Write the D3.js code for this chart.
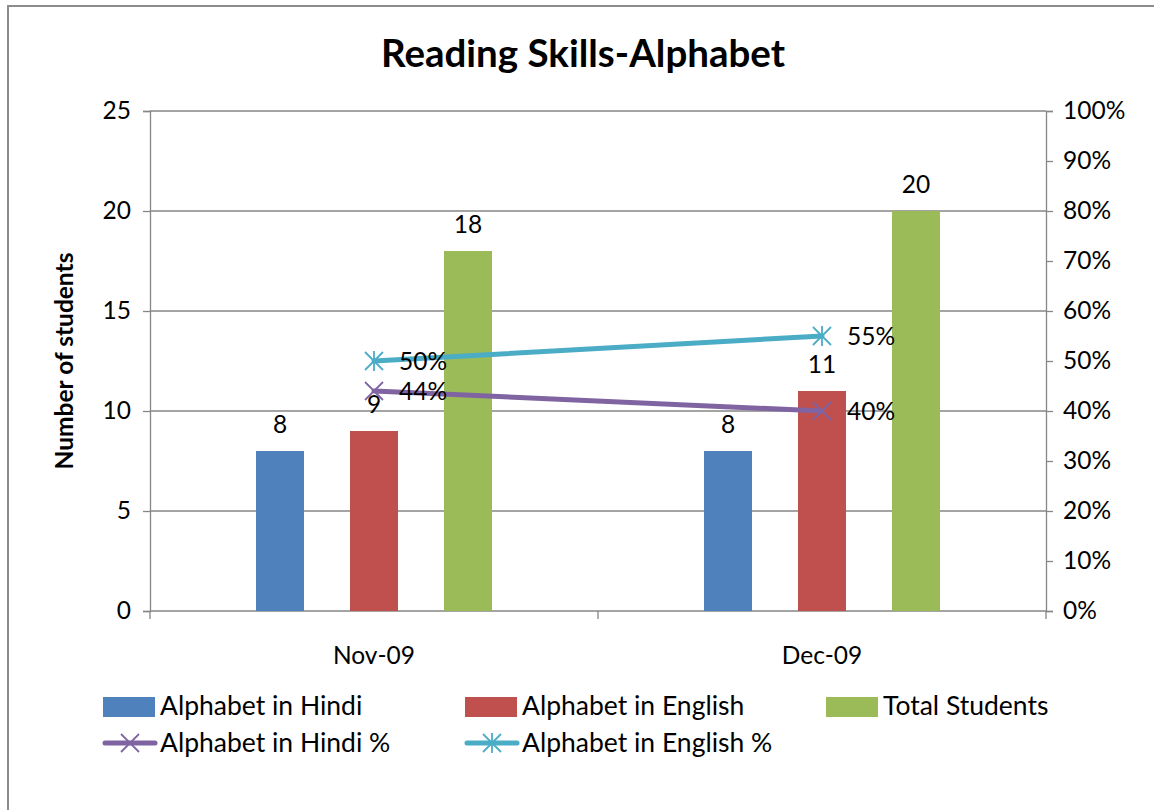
<!DOCTYPE html>
<html><head><meta charset="utf-8">
<script src="https://cdn.jsdelivr.net/npm/d3@7"></script>
<style>body{margin:0;background:#fff}svg{display:block}text{font-family:Lato,"Open Sans",sans-serif;fill:#000}</style>
</head><body><svg id="c" width="1154" height="810"></svg>
<script>
const categories = ["Nov-09", "Dec-09"];
const hindi = [8, 8];
const english = [9, 11];
const total = [18, 20];
const hindiPct = [44, 40];
const englishPct = [50, 55];
const leftTicks = [0, 5, 10, 15, 20, 25];
const rightTicks = [0, 10, 20, 30, 40, 50, 60, 70, 80, 90, 100];
const barSeries = [
  {name: "Alphabet in Hindi", values: hindi, color: "#4F81BD"},
  {name: "Alphabet in English", values: english, color: "#C0504D"},
  {name: "Total Students", values: total, color: "#9BBB59"}
];
const lineSeries = [
  {name: "Alphabet in Hindi %", values: hindiPct, color: "#8064A2", marker: "x"},
  {name: "Alphabet in English %", values: englishPct, color: "#4BACC6", marker: "star"}
];

const FS = 24.5;
const svg = d3.select("#c");
svg.append("rect").attr("x", 8).attr("y", 6).attr("width", 1160).attr("height", 820)
  .attr("fill", "#fff").attr("stroke", "#8c8c8c").attr("stroke-width", 2);

const L = 150, R = 1046, T = 111, B = 611;
const x = d3.scaleBand().domain(categories).range([L, R]);
const y = d3.scaleLinear().domain([0, 25]).range([B, T]);
const y2 = d3.scaleLinear().domain([0, 100]).range([B, T]);
const grey = "#868686";

// gridlines
svg.append("g").selectAll("line").data(leftTicks.slice(1)).join("line")
  .attr("x1", L).attr("x2", R).attr("y1", d => y(d)).attr("y2", d => y(d))
  .attr("stroke", grey).attr("stroke-width", 1.3);

// left axis
const la = svg.append("g").attr("transform", `translate(${L},0)`)
  .call(d3.axisLeft(y).tickValues(leftTicks).tickSize(7).tickPadding(12));
la.select(".domain").attr("stroke", grey).attr("stroke-width", 1.3);
la.selectAll(".tick line").attr("stroke", grey).attr("stroke-width", 1.3);
la.selectAll("text").attr("font-size", FS).style("font-family", "Lato");

// right axis
const ra = svg.append("g").attr("transform", `translate(${R},0)`)
  .call(d3.axisRight(y2).tickValues(rightTicks).tickFormat(d => d + "%").tickSize(7).tickPadding(10));
ra.select(".domain").attr("stroke", grey).attr("stroke-width", 1.3);
ra.selectAll(".tick line").attr("stroke", grey).attr("stroke-width", 1.3);
ra.selectAll("text").attr("font-size", FS).style("font-family", "Lato");

// x axis
svg.append("line").attr("x1", L).attr("x2", R).attr("y1", B).attr("y2", B)
  .attr("stroke", grey).attr("stroke-width", 1.3);
const xt = [L, L + x.bandwidth(), R];
svg.append("g").selectAll("line").data(xt).join("line")
  .attr("x1", d => d).attr("x2", d => d).attr("y1", B).attr("y2", B + 8)
  .attr("stroke", grey).attr("stroke-width", 1.3);
svg.append("g").selectAll("text").data(categories).join("text")
  .attr("x", d => x(d) + x.bandwidth() / 2).attr("y", 664)
  .attr("text-anchor", "middle").attr("font-size", FS).text(d => d);

// bars
const bw = x.bandwidth();
const barW = bw * 48 / 448, step = bw * 94 / 448;
barSeries.forEach((s, i) => {
  const g = svg.append("g");
  categories.forEach((c, j) => {
    const cx = x(c) + bw / 2 + (i - 1) * step;
    g.append("rect").attr("x", cx - barW / 2).attr("y", y(s.values[j]))
      .attr("width", barW).attr("height", B - y(s.values[j])).attr("fill", s.color);
    g.append("text").attr("x", cx).attr("y", y(s.values[j]) - 18)
      .attr("text-anchor", "middle").attr("font-size", FS).text(s.values[j]);
  });
});

function marker(g, cx, cy, type, color) {
  const r = 9;
  g.append("line").attr("x1", cx - r).attr("y1", cy - r).attr("x2", cx + r).attr("y2", cy + r).attr("stroke", color).attr("stroke-width", 1.8);
  g.append("line").attr("x1", cx - r).attr("y1", cy + r).attr("x2", cx + r).attr("y2", cy - r).attr("stroke", color).attr("stroke-width", 1.8);
  if (type === "star") {
    g.append("line").attr("x1", cx).attr("y1", cy - r - 1).attr("x2", cx).attr("y2", cy + r + 1).attr("stroke", color).attr("stroke-width", 1.8);
  }
}

// lines
lineSeries.forEach(s => {
  const g = svg.append("g");
  const pts = categories.map((c, j) => [x(c) + bw / 2, y2(s.values[j])]);
  g.append("path").attr("d", d3.line()(pts)).attr("fill", "none")
    .attr("stroke", s.color).attr("stroke-width", 5).attr("stroke-linecap", "round");
  pts.forEach((p, j) => {
    marker(g, p[0], p[1], s.marker, s.color);
    g.append("text").attr("x", p[0] + 25).attr("y", p[1] + 9)
      .attr("font-size", FS).text(s.values[j] + "%");
  });
});

// title
svg.append("text").attr("x", 583).attr("y", 67).attr("text-anchor", "middle")
  .attr("font-size", 38.5).attr("font-weight", "bold").text("Reading Skills-Alphabet");
svg.append("text").attr("transform", "translate(73,361) rotate(-90)").attr("text-anchor", "middle")
  .attr("font-size", 24.5).attr("font-weight", "bold").text("Number of students");

// legend
const lx = [103, 465, 826];
barSeries.forEach((s, i) => {
  svg.append("rect").attr("x", lx[i]).attr("y", 697).attr("width", 52).attr("height", 20).attr("fill", s.color);
  svg.append("text").attr("x", lx[i] + 57).attr("y", 715).attr("font-size", 26.5).text(s.name);
});
lineSeries.forEach((s, i) => {
  const g = svg.append("g");
  g.append("line").attr("x1", lx[i] + 2).attr("x2", lx[i] + 52).attr("y1", 743).attr("y2", 743)
    .attr("stroke", s.color).attr("stroke-width", 5).attr("stroke-linecap", "round");
  marker(g, lx[i] + 27, 743, s.marker, s.color);
  svg.append("text").attr("x", lx[i] + 57).attr("y", 752).attr("font-size", 26.5).text(s.name);
});
</script></body></html>
